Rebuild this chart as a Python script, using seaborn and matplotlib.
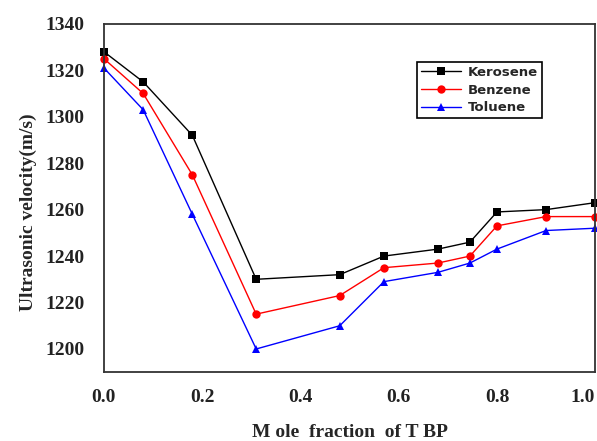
import pandas as pd
import numpy as np
import matplotlib
matplotlib.use('Agg')
import matplotlib.pyplot as plt
import seaborn as sns

mole_fraction = [0.0, 0.08, 0.18, 0.31, 0.48, 0.57, 0.68, 0.745, 0.80, 0.90, 1.0]
kerosene = [1328, 1315, 1292, 1230, 1232, 1240, 1243, 1246, 1259, 1260, 1263]
benzene = [1325, 1310, 1275, 1215, 1223, 1235, 1237, 1240, 1253, 1257, 1257]
toluene = [1321, 1303, 1258, 1200, 1210, 1229, 1233, 1237, 1243, 1251, 1252]
solvents = ['Kerosene', 'Benzene', 'Toluene']

df = pd.DataFrame({
    'x': mole_fraction * 3,
    'v': kerosene + benzene + toluene,
    'solvent': np.repeat(solvents, len(mole_fraction)),
})

sns.set_style('white')
plt.rcParams['font.family'] = ['Liberation Serif', 'DejaVu Serif']

fig = plt.figure(figsize=(5.97, 4.41), dpi=100)
ax = fig.add_axes([0.174, 0.156, 0.823, 0.79])

sns.lineplot(data=df, x='x', y='v', hue='solvent', style='solvent',
             palette={'Kerosene': 'black', 'Benzene': 'red', 'Toluene': 'blue'},
             markers={'Kerosene': 's', 'Benzene': 'o', 'Toluene': '^'},
             dashes=False, markersize=6, markeredgewidth=0, linewidth=1,
             ax=ax, clip_on=False)

ax.set_xlim(0, 1.0)
ax.set_ylim(1190, 1340)
ax.set_xticks([0.0, 0.2, 0.4, 0.6, 0.8, 1.0])
ax.set_xticklabels(['0.0', '0.2', '0.4', '0.6', '0.8', '1.0'])
ax.set_yticks(range(1200, 1341, 20))
ax.tick_params(length=0, labelsize=14)
ax.tick_params(axis='x', pad=12)
ax.tick_params(axis='y', pad=14)
for lbl in ax.get_xticklabels() + ax.get_yticklabels():
    lbl.set_fontweight('bold')
    lbl.set_color('#222222')
ax.get_xticklabels()[-1].set_horizontalalignment('right')

for sp in ax.spines.values():
    sp.set_color('#333333')
    sp.set_linewidth(1.3)

ax.set_xlabel('M ole  fraction  of T BP', fontsize=14, fontweight='bold', va='center')
ax.xaxis.set_label_coords(0.5, -0.172)
ax.set_ylabel('Ultrasonic velocity(m/s)', fontsize=14, fontweight='bold', va='center')
ax.yaxis.set_label_coords(-0.153, 0.46)

leg = ax.legend(loc='upper left', bbox_to_anchor=(0.638, 0.89), frameon=True,
                fancybox=False, edgecolor='black', framealpha=1,
                borderpad=0.3, labelspacing=0.35, handlelength=3.0,
                handletextpad=0.5, borderaxespad=0,
                prop={'family': 'DejaVu Sans', 'weight': 'bold', 'size': 9.5})
leg.get_frame().set_linewidth(1.2)

fig.savefig('out.png', dpi=100)
